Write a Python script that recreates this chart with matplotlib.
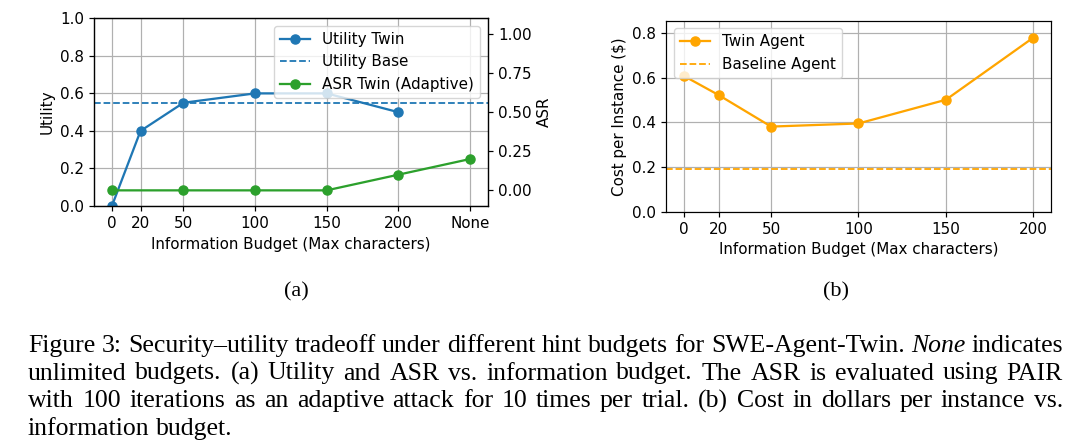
"""Security-utility tradeoff figure"""
import matplotlib
matplotlib.use("Agg")
import matplotlib.pyplot as plt

budgets = [0, 20, 50, 100, 150, 200]
budget_labels = ["0", "20", "50", "100", "150", "200", "None"]
budget_pos = [0, 20, 50, 100, 150, 200, 250]

utility_twin = [0.0, 0.40, 0.55, 0.60, 0.60, 0.50]
utility_base = 0.55

asr_budgets = [0, 50, 100, 150, 200, 250]
asr_twin = [0.0, 0.0, 0.0, 0.0, 0.1, 0.2]

cost_twin = [0.608, 0.522, 0.381, 0.395, 0.501, 0.779]
cost_base = 0.193

caption = [
    [("Figure 3: Security\u2013utility tradeoff under different hint budgets for SWE-Agent-Twin.", "normal"),
     ("None", "italic"), ("indicates", "normal")],
    [("unlimited budgets. (a) Utility and ASR vs. information budget. The ASR is evaluated using PAIR", "normal")],
    [("with 100 iterations as an adaptive attack for 10 times per trial. (b) Cost in dollars per instance vs.", "normal")],
    [("information budget.", "normal")],
]

W, H = 1080, 447
s = 1.09  # the chart looks drawn at ~1.09x the default scale
plt.rcParams.update({
    "font.size": 10 * s,
    "lines.linewidth": 1.5 * s,
    "lines.markersize": 6 * s,
    "axes.linewidth": 0.8 * s,
    "grid.linewidth": 0.8 * s,
    "xtick.major.width": 0.8 * s,
    "ytick.major.width": 0.8 * s,
    "xtick.major.size": 3.5 * s,
    "ytick.major.size": 3.5 * s,
})
fig = plt.figure(figsize=(W / 100, H / 100), dpi=100)

# (a) utility and ASR
ax1 = fig.add_axes([94 / W, 1 - 206 / H, 393.7 / W, 187.7 / H])
l1, = ax1.plot(budgets, utility_twin, color="tab:blue", marker="o", label="Utility Twin")
l2 = ax1.axhline(utility_base, color="tab:blue", linestyle="--", linewidth=1.3, label="Utility Base")
ax1.set_ylim(0, 1)
ax1.set_xticks(budget_pos)
ax1.set_xticklabels(budget_labels)
ax1.set_ylabel("Utility")
ax1.set_xlabel("Information Budget (Max characters)")
ax1.grid(True)

ax2 = ax1.twinx()
l3, = ax2.plot(asr_budgets, asr_twin, color="tab:green", marker="o", label="ASR Twin (Adaptive)")
ax2.set_ylim(-0.1, 1.1)
ax2.set_yticks([0, 0.25, 0.5, 0.75, 1.0])
ax2.set_ylabel("ASR")
ax2.legend(handles=[l1, l2, l3], loc="upper right")

# (b) cost
ax3 = fig.add_axes([666.3 / W, 1 - 211.7 / H, 384.4 / W, 191 / H])
ax3.plot(budgets, cost_twin, color="orange", marker="o", label="Twin Agent")
ax3.axhline(cost_base, color="orange", linestyle="--", linewidth=1.3, label="Baseline Agent")
ax3.set_ylim(0, 0.855)
ax3.set_xticks(budgets)
ax3.set_ylabel("Cost per Instance ($)")
ax3.set_xlabel("Information Budget (Max characters)")
ax3.grid(True)
ax3.legend(loc="upper left")

serif = "Liberation Serif"
fig.text(296 / W, 1 - 292 / H, "(a)", ha="center", va="center", family=serif, fontsize=16)
fig.text(836 / W, 1 - 292 / H, "(b)", ha="center", va="center", family=serif, fontsize=16)

# justified caption
renderer = fig.canvas.get_renderer()
left, right = 28, 1063
size = 18.5
for i, line in enumerate(caption):
    y = 1 - (351.7 + 27.8 * i) / H
    words = []
    for chunk, style in line:
        for w in chunk.split(" "):
            words.append((w, style))
    texts = [fig.text(0, y, w, family=serif, style=st, fontsize=size, va="baseline")
             for w, st in words]
    widths = [t.get_window_extent(renderer).width for t in texts]
    if i < len(caption) - 1:
        gap = (right - left - sum(widths)) / (len(words) - 1)
    else:
        gap = size * 100 / 72 * 0.25
    x = left
    for t, wd in zip(texts, widths):
        t.set_x(x / W)
        x += wd + gap

fig.savefig("out.png", dpi=100)
